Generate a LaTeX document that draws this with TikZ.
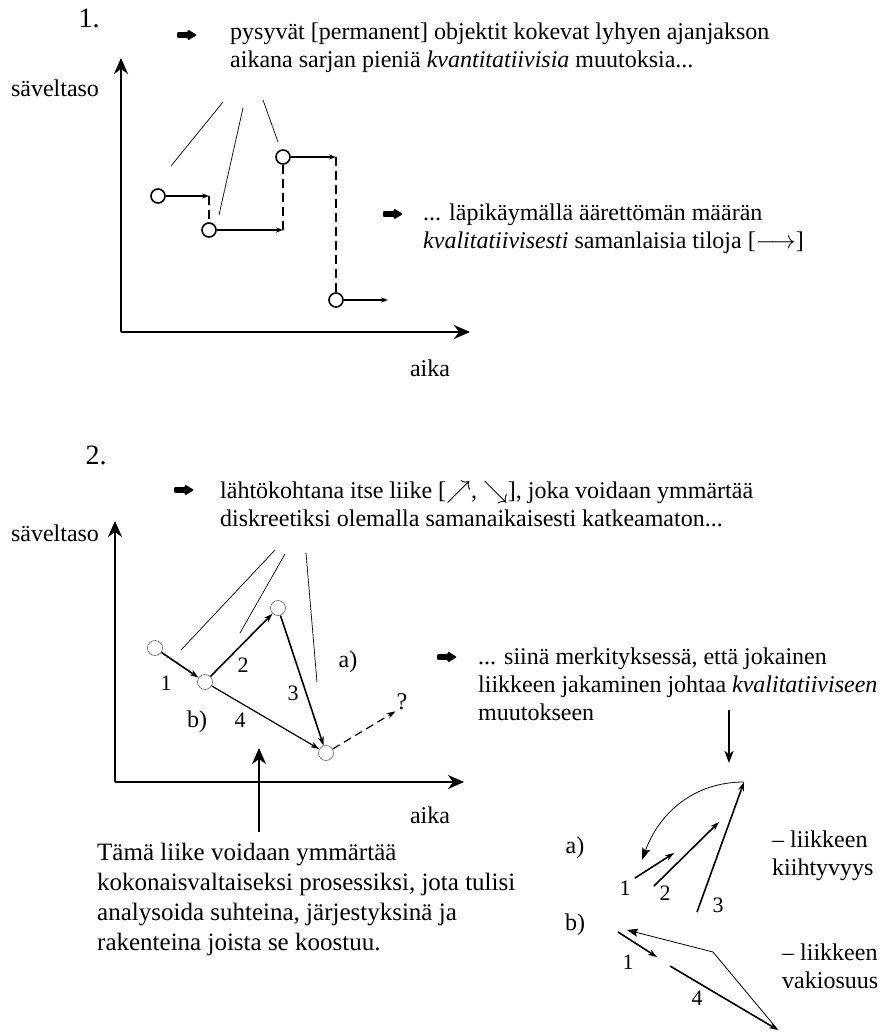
\documentclass[tikz,border=0pt]{standalone}
\usepackage{fontspec}
\setmainfont{Liberation Serif}
\usetikzlibrary{positioning,arrows.meta}

\begin{document}
\begin{tikzpicture}[x=1pt,y=-1pt,
  txt/.style={font=\fontsize{24}{28}\selectfont,align=left,inner sep=0pt},
  lbl/.style={font=\fontsize{22}{22}\selectfont,inner sep=1pt},
  bul/.pic={\fill[rounded corners=1pt] (-10,-2.8) -- (1,-2.8) -- (1,-5.5) -- (10,0)
            -- (1,5.5) -- (1,2.8) -- (-10,2.8) -- cycle;},
  pt/.style={circle,draw,line width=1.6pt,minimum size=14pt,inner sep=0pt},
  gpt/.style={circle,draw=gray,line width=0.8pt,minimum size=15pt,inner sep=0pt},
  axis/.style={line width=2pt,-{Stealth[length=16pt,width=14pt,inset=5pt]}},
  harr/.style={line width=1.2pt,-{Stealth[length=7pt,width=5pt]}},
  vdash/.style={line width=1.6pt,dash pattern=on 9pt off 5pt},
  ptr/.style={line width=0.7pt},
  mv/.style={line width=1.6pt,-{Stealth[length=9pt,width=6pt]}}]
\useasboundingbox (0,0) rectangle (890,1032);

% 1.
\node [font=\fontsize{28}{28}\selectfont] (n1) at (89,18) {1.};
\pic at (187,35) {bul};
\node [txt,anchor=west] (t1) at (230,48)
  {pysyvät [permanent] objektit kokevat lyhyen ajanjakson\\
   aikana sarjan pieniä \textit{kvantitatiivisia} muutoksia...};
\node [txt] (s1) at (55,88) {säveltaso};
\coordinate (o1) at (121,332);
\coordinate (y1) at (121,58);
\coordinate (x1) at (470,332);
\draw [axis] (o1) -- (y1);
\draw [axis] (o1) -- (x1);
\node [txt] (k1) at (430,368) {aika};

\node [pt] (c1) at (158,196) {};
\node [pt] (c2) at (209,230) {};
\node [pt] (c3) at (283,157) {};
\node [pt] (c4) at (336,300) {};
\coordinate (e1) at (209,196);
\coordinate (e2) at (283,230);
\coordinate (e3) at (336,157);
\coordinate (e4) at (388,300);
\draw [harr] (c1) -- (e1);
\draw [harr] (c2) -- (e2);
\draw [harr] (c3) -- (e3);
\draw [harr] (c4) -- (e4);
\draw [vdash] (e1) -- (c2);
\draw [vdash] (c3) -- (e2);
\draw [vdash] (e3) -- (c4);

\coordinate (p1) at (223,102);
\coordinate (p2) at (243,108);
\coordinate (p3) at (263,100);
\draw [ptr] (p1) -- (171,166);
\draw [ptr] (p2) -- (219,215);
\draw [ptr] (p3) -- (278,142);

\pic at (393,214) {bul};
\node [txt,anchor=west] (t2) at (423,229)
  {... läpikäymällä äärettömän määrän\\
   \textit{kvalitatiivisesti} samanlaisia tiloja [$\longrightarrow$]};

% 2.
\node [font=\fontsize{28}{28}\selectfont] (n2) at (96,455) {2.};
\pic at (184,490) {bul};
\node [txt,anchor=west] (t3) at (220,504)
  {lähtökohtana itse liike [$\nearrow$, $\searrow$], joka voidaan ymmärtää\\
   diskreetiksi olemalla samanaikaisesti katkeamaton...};
\node [txt] (s2) at (55,533) {säveltaso};
\coordinate (o2) at (115,782);
\coordinate (y2) at (115,521);
\coordinate (x2) at (464,782);
\draw [axis] (o2) -- (y2);
\draw [axis] (o2) -- (x2);
\node [txt] (k2) at (430,815) {aika};

\node [gpt] (q1) at (155,648) {};
\node [gpt] (q2) at (205,682) {};
\node [gpt] (q3) at (278,608) {};
\node [gpt] (q4) at (326,753) {};
\draw [mv] (q1) -- (q2);
\draw [mv] (q2) -- (q3);
\draw [mv] (q3) -- (q4);
\draw [mv,line width=1.2pt] (q2) -- (q4);
\node [lbl,font=\fontsize{24}{24}\selectfont] (qm) at (402,702) {?};
\draw [mv,line width=1.2pt,dash pattern=on 8pt off 5pt] (q4) -- (qm.south west);
\node [lbl] (l1) at (166,683) {1};
\node [lbl] (l2) at (243,665) {2};
\node [lbl] (l3) at (293,693) {3};
\node [lbl] (l4) at (240,720) {4};
\node [txt] (la) at (348,662) {a)};
\node [txt] (lb) at (197,722) {b)};

\coordinate (r1) at (275,550);
\coordinate (r2) at (285,554);
\coordinate (r3) at (306,553);
\draw [ptr] (r1) -- (181,650);
\draw [ptr] (r2) -- (240,633);
\draw [ptr] (r3) -- (317,682);

\coordinate (u1) at (259,832);
\draw [axis,line width=1.8pt] (u1) -- (259,748);
\node [txt,anchor=west,font=\fontsize{25}{30}\selectfont] (t4) at (97,899)
  {Tämä liike voidaan ymmärtää\\
   kokonaisvaltaiseksi prosessiksi, jota tulisi\\
   analysoida suhteina, järjestyksinä ja\\
   rakenteina joista se koostuu.};

\pic at (447,657) {bul};
\node [txt,anchor=west] (t5) at (478,684)
  {... siinä merkityksessä, että jokainen\\
   liikkeen jakaminen johtaa \textit{kvalitatiiviseen}\\
   muutokseen};
\coordinate (d1) at (729,710);
\draw [line width=1.6pt,-{Stealth[length=12pt,width=9pt,inset=3pt]}] (d1) -- (729,763);

% a) ja b)
\node [txt] (ra) at (575,848) {a)};
\coordinate (a1s) at (635,878);
\coordinate (a1e) at (674,853);
\coordinate (a2s) at (654,886);
\coordinate (a2e) at (719,822);
\coordinate (a3s) at (697,912);
\coordinate (a3e) at (744,782);
\draw [mv] (a1s) -- (a1e);
\draw [mv] (a2s) -- (a2e);
\draw [mv] (a3s) -- (a3e);
\draw [line width=0.8pt,-{Stealth[length=12pt,width=8pt,inset=2pt]}]
  (a3e) to[out=180,in=70] (642,860);
\node [lbl] (m1) at (625,888) {1};
\node [lbl] (m2) at (665,893) {2};
\node [lbl] (m3) at (718,905) {3};
\node [txt,anchor=west] (ka) at (772,856) {-- liikkeen\\kiihtyvyys};

\node [txt] (rb) at (575,925) {b)};
\coordinate (b1s) at (618,932);
\coordinate (b1e) at (657,957);
\coordinate (b4s) at (670,966);
\coordinate (b4e) at (778,1030);
\coordinate (bk) at (713,952);
\draw [mv] (b1s) -- (b1e);
\draw [mv] (b4s) -- (b4e);
\draw [line width=0.8pt,-{Stealth[length=11pt,width=8pt,inset=2pt]}]
  (b4e) -- (bk) -- (627,930);
\node [lbl] (m4) at (628,962) {1};
\node [lbl] (m5) at (697,998) {4};
\node [txt,anchor=west] (kb) at (782,966) {-- liikkeen\\vakiosuus};
\end{tikzpicture}
\end{document}
